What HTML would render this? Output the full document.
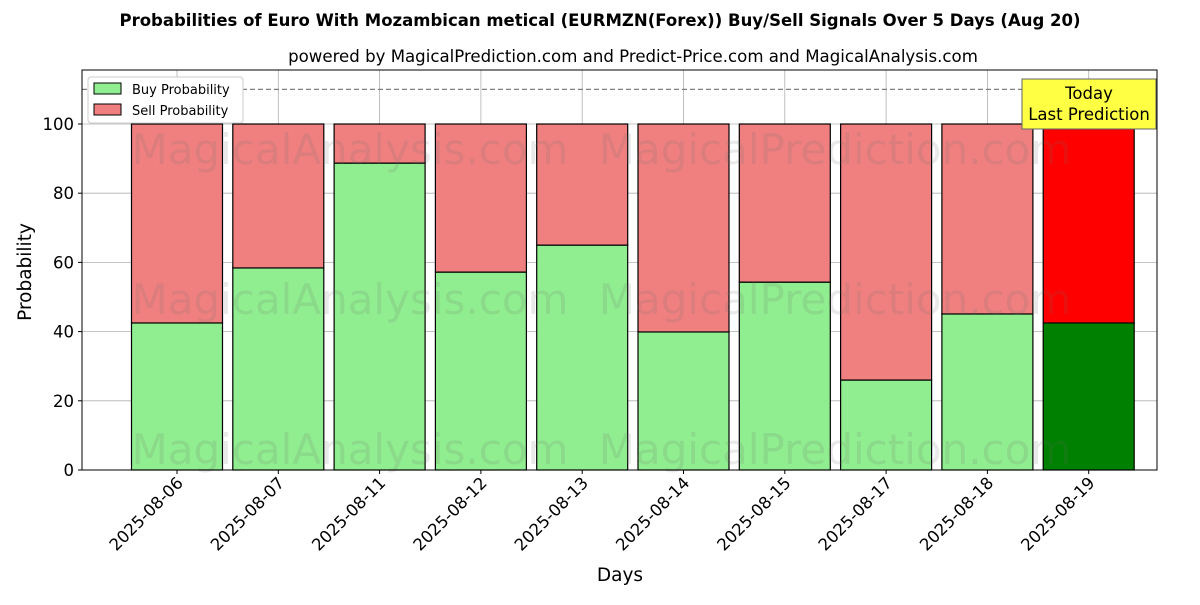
<!DOCTYPE html>
<html><head><meta charset="utf-8"><style>
body{margin:0;background:#fff;font-family:"Liberation Sans","DejaVu Sans",sans-serif;}
</style></head><body>
<svg id="chart" width="1200" height="600" xmlns="http://www.w3.org/2000/svg" font-family="DejaVu Sans, Liberation Sans, sans-serif">
<text x="600" y="26" text-anchor="middle" font-size="16.5" font-weight="bold">Probabilities of Euro With Mozambican metical (EURMZN(Forex)) Buy/Sell Signals Over 5 Days (Aug 20)</text>
<text x="633" y="62" text-anchor="middle" font-size="16.6">powered by MagicalPrediction.com and Predict-Price.com and MagicalAnalysis.com</text>
<g id="plot"></g>
</svg>
<script>
const categories=["2025-08-06","2025-08-07","2025-08-11","2025-08-12","2025-08-13","2025-08-14","2025-08-15","2025-08-17","2025-08-18","2025-08-19"];
const buyValues=[42.5,58.4,88.7,57.2,65.0,39.9,54.3,26.0,45.1,42.5];
const sellValues=buyValues.map(v=>100-v);
const yTicks=[0,20,40,60,80,100];
const NS="http://www.w3.org/2000/svg";
const L=82,R=1157,T=70,B=470;
const y=v=>B-v*3.46;
const step=101.3,x0=177,bw=91;
const xc=i=>x0+i*step;
const g=document.getElementById('plot');
function mk(t,a,p){const e=document.createElementNS(NS,t);for(const k in a)e.setAttribute(k,a[k]);(p||g).appendChild(e);return e;}
yTicks.forEach(t=>{
 const l=mk('line',{x1:L,x2:R,y1:y(t),y2:y(t),stroke:'#b0b0b0','stroke-width':0.8});
 
 
 const tk=mk('line',{x1:L-4,x2:L,y1:y(t),y2:y(t),stroke:'#000'});
 
 
 const tx=mk('text',{x:L-8,y:y(t)+6,'text-anchor':'end','font-size':16.5});
 tx.textContent=t;
 
 
});
categories.forEach((c,i)=>{
 const l=mk('line',{x1:xc(i),x2:xc(i),y1:T,y2:B,stroke:'#b0b0b0','stroke-width':0.8});
 
 
});
categories.forEach((c,i)=>{
 const last=i===categories.length-1;
 const b=mk('rect',{x:xc(i)-bw/2,y:y(buyValues[i]),width:bw,height:B-y(buyValues[i]),fill:last?'#008000':'#90ee90',stroke:'#000','stroke-width':1.2});
 
 
 const s=mk('rect',{x:xc(i)-bw/2,y:y(100),width:bw,height:y(buyValues[i])-y(100),fill:last?'#ff0000':'#f08080',stroke:'#000','stroke-width':1.2});
 
 
 const tk=mk('line',{x1:xc(i),x2:xc(i),y1:B,y2:B+4,stroke:'#000'});
 
 
 const tx=mk('text',{x:xc(i)+7,y:B+14,'text-anchor':'end','font-size':16.5,transform:`rotate(-45 ${xc(i)+7} ${B+14})`});
 tx.textContent=c;
 
 
});
[[350,150,'MagicalAnalysis.com'],[835,150,'MagicalPrediction.com'],[350,300,'MagicalAnalysis.com'],[835,300,'MagicalPrediction.com'],[350,450,'MagicalAnalysis.com'],[835,450,'MagicalPrediction.com']].forEach(w=>{
 const t=mk('text',{x:w[0],y:w[1]+14,'text-anchor':'middle','font-size':42,fill:'rgba(110,110,110,0.15)'});
 t.textContent=w[2];
 
 
});
const dl=mk('line',{x1:L,x2:R,y1:y(110),y2:y(110),stroke:'#808080','stroke-width':1.2,'stroke-dasharray':'5,3'});


const fr=mk('rect',{x:L,y:T,width:R-L,height:B-T,fill:'none',stroke:'#000','stroke-width':1});


const ab=mk('rect',{x:1022,y:79,width:134,height:50,fill:'#ffff44',stroke:'#666'});


const a1=mk('text',{x:1089,y:99,'text-anchor':'middle','font-size':16.5});a1.textContent='Today';


const a2=mk('text',{x:1089,y:120,'text-anchor':'middle','font-size':16.5});a2.textContent='Last Prediction';


const lg=mk('g',{});


mk('rect',{x:88,y:77,width:155,height:46,fill:'#fff',stroke:'#ccc',rx:3},lg);
const e1=mk('rect',{x:94,y:83,width:27,height:11,fill:'#90ee90',stroke:'#000'},lg);


const t1=mk('text',{x:132,y:94,'font-size':13},lg);t1.textContent='Buy Probability';


const e2=mk('rect',{x:94,y:104,width:27,height:11,fill:'#f08080',stroke:'#000'},lg);


const t2=mk('text',{x:132,y:115,'font-size':13},lg);t2.textContent='Sell Probability';


const xt=mk('text',{x:620,y:581,'text-anchor':'middle','font-size':18.5});xt.textContent='Days';


const yt=mk('text',{x:31,y:272,'text-anchor':'middle','font-size':18.5,transform:'rotate(-90 31 272)'});yt.textContent='Probability';


</script>
</body></html>
